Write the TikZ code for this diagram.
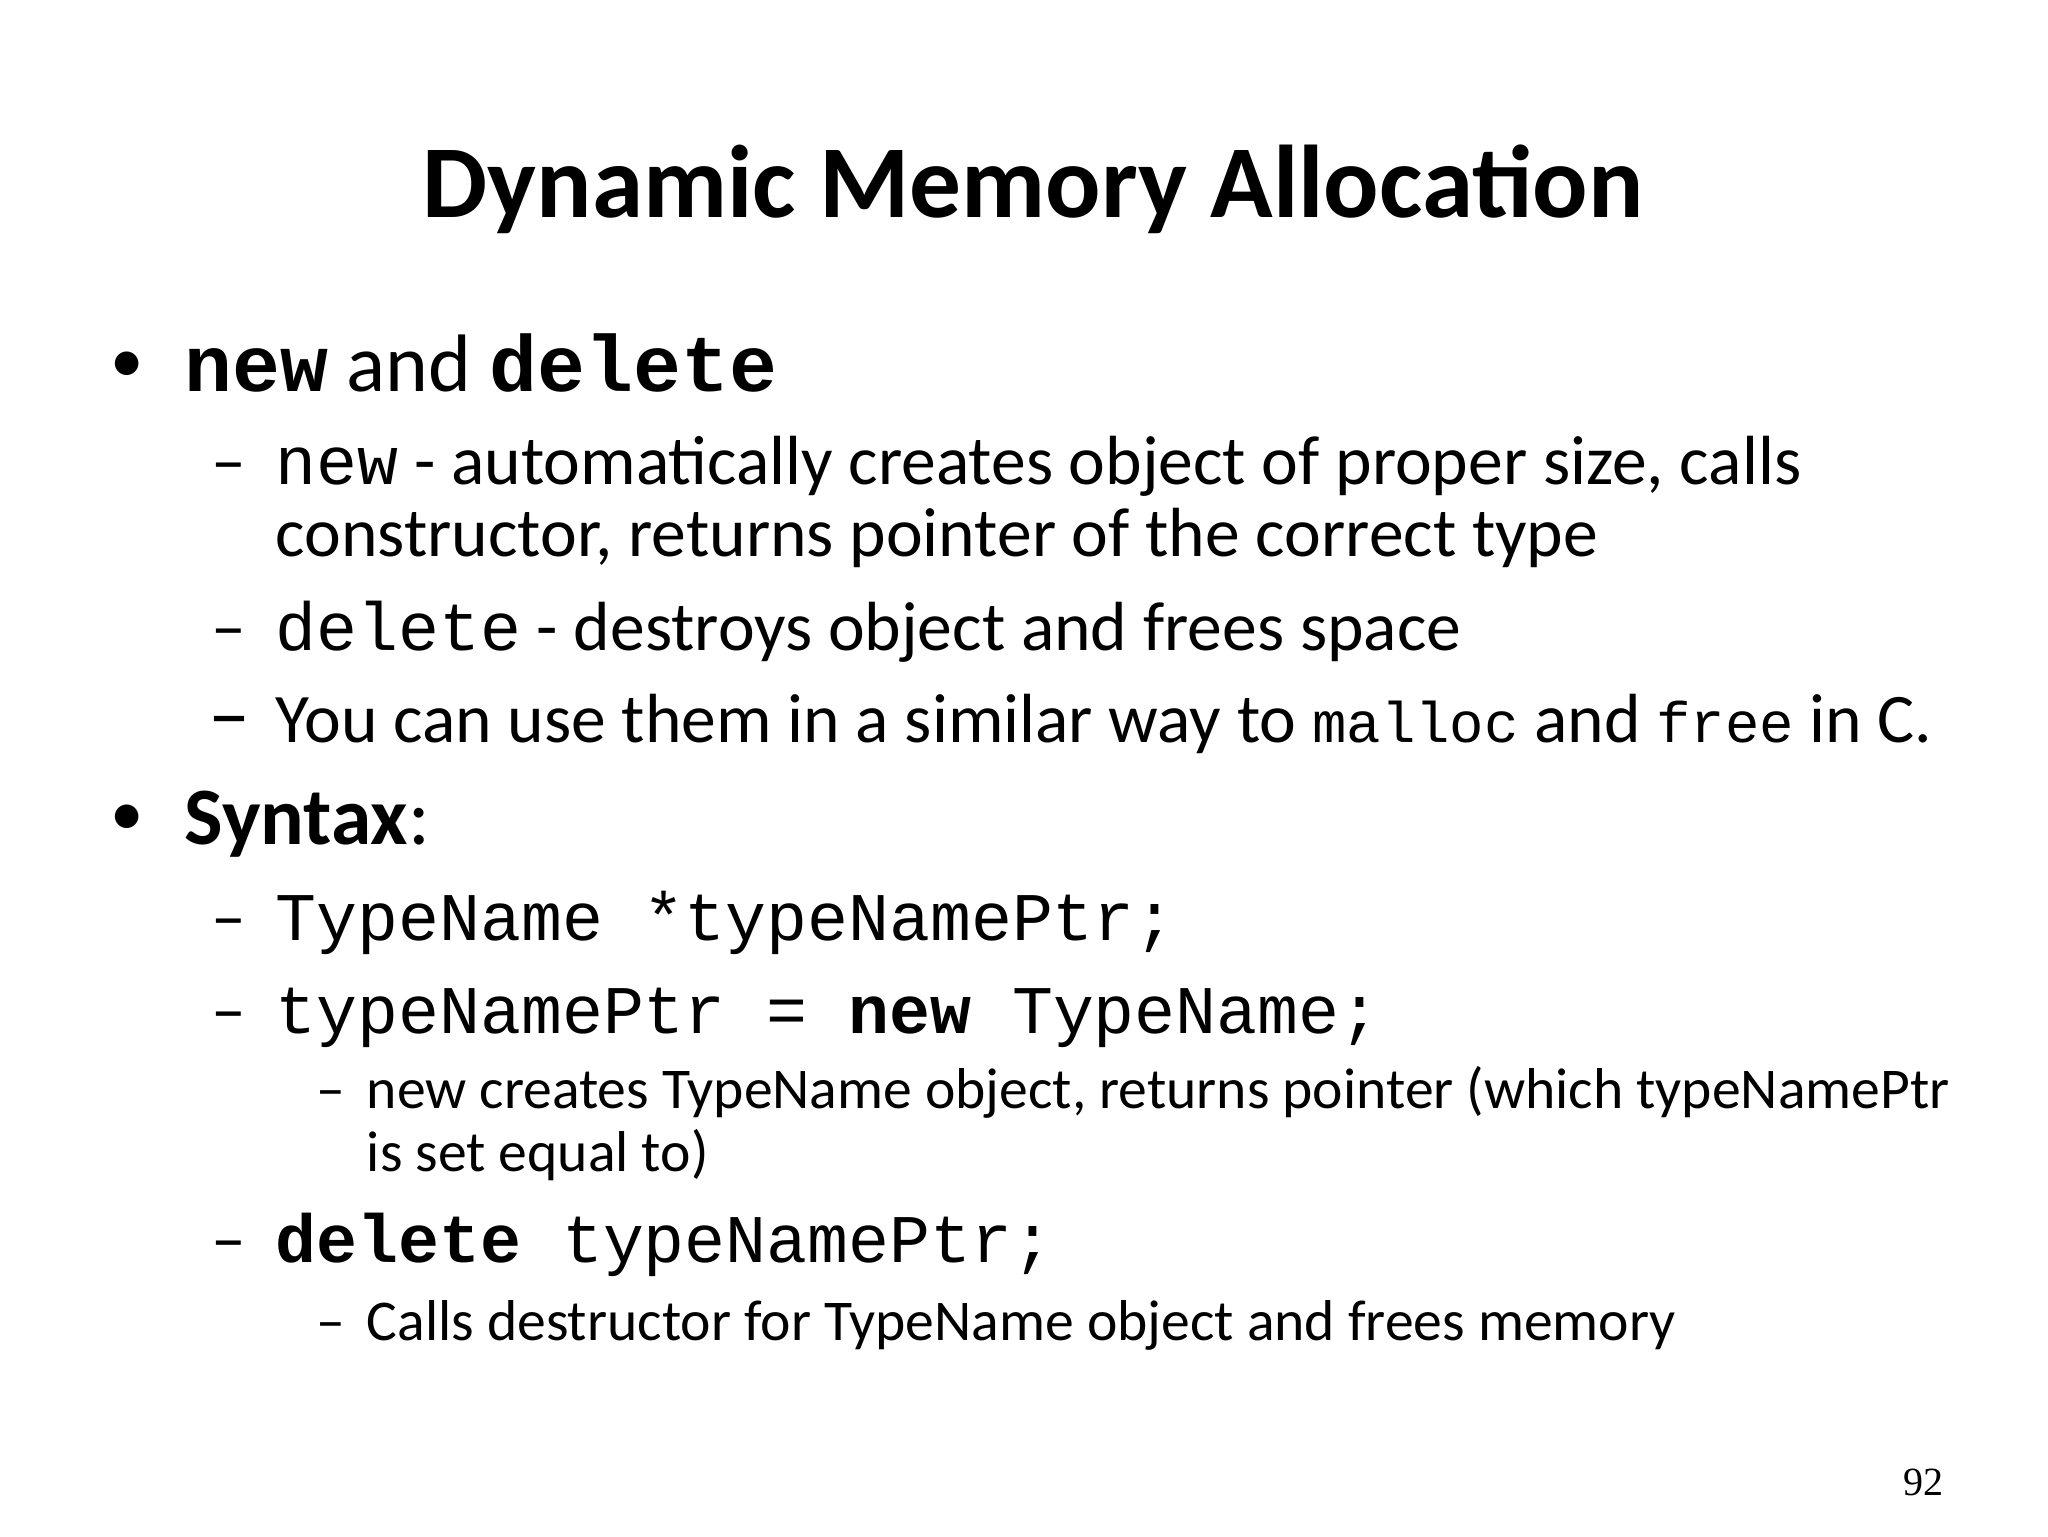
\documentclass[tikz,border=0pt]{standalone}
\usepackage{fontspec}
\setmainfont{Carlito}
\setmonofont{Liberation Mono}
\newfontfamily\numfont{Liberation Serif}
\newcommand\monoA[1]{{\fontsize{22.7}{26}\selectfont\texttt{#1}}}
\newcommand\monoB[1]{{\fontsize{19.4}{23}\selectfont\texttt{#1}}}
\newcommand\monoC[1]{{\fontsize{16.3}{20}\selectfont\texttt{#1}}}
\begin{document}
\begin{tikzpicture}[x=0.0132cm,y=-0.0132cm,
  t/.style={anchor=base west,inner sep=0pt,outer sep=0pt},
  lone/.style={t,font=\fontsize{23.2}{27}\selectfont},
  bul/.style={t,font=\fontsize{19}{22}\selectfont},
  ltwo/.style={t,font=\fontsize{19.8}{24}\selectfont},
  lthree/.style={t,font=\fontsize{16.4}{20}\selectfont}]
\useasboundingbox (0,0) rectangle (1552,1164);
\node[anchor=base,inner sep=0pt,font=\fontsize{29.4}{34}\selectfont\bfseries] (title) at (783,165) {Dynamic Memory Allocation};
\node[bul] (b1) at (84,290) {•};
\node[lone] (l1) at (140,297) {\monoA{\bfseries new} and \monoA{\bfseries delete}};
\node[ltwo] (d1) at (160,367) {–};
\node[ltwo] (l2) at (209,367) {\monoB{new} - automatically creates object of proper size, calls};
\node[ltwo] (l2b) at (209,422) {constructor, returns pointer of the correct type};
\node[ltwo] (d2) at (160,493) {–};
\node[ltwo] (l3) at (209,493) {\monoB{delete} - destroys object and frees space};
\node[ltwo,font=\fontsize{24}{28}\selectfont] (d3) at (158,563) {–};
\node[ltwo] (l4) at (209,563) {You can use them in a similar way to \monoC{malloc} and \monoC{free} in C.};
\node[bul] (b2) at (84,633) {•};
\node[lone] (l5) at (140,640) {\textbf{Syntax}:};
\node[ltwo] (d4) at (160,713) {–};
\node[ltwo] (l6) at (209,713) {\monoB{TypeName *typeNamePtr;}};
\node[ltwo] (d5) at (160,783) {–};
\node[ltwo] (l7) at (209,783) {\monoB{typeNamePtr = \textbf{new} TypeName;}};
\node[lthree] (d6) at (240,840) {–};
\node[lthree] (l8) at (278,840) {new creates TypeName object, returns pointer (which typeNamePtr};
\node[lthree] (l8b) at (278,888) {is set equal to)};
\node[ltwo] (d7) at (160,957) {–};
\node[ltwo] (l9) at (209,957) {\monoB{\textbf{delete} typeNamePtr;}};
\node[lthree] (d8) at (240,1016) {–};
\node[lthree] (l10) at (278,1016) {Calls destructor for TypeName object and frees memory};
\node[anchor=base east,inner sep=0pt,font=\numfont\fontsize{11.4}{14}\selectfont] (pg) at (1473,1133) {92};
\end{tikzpicture}
\end{document}
